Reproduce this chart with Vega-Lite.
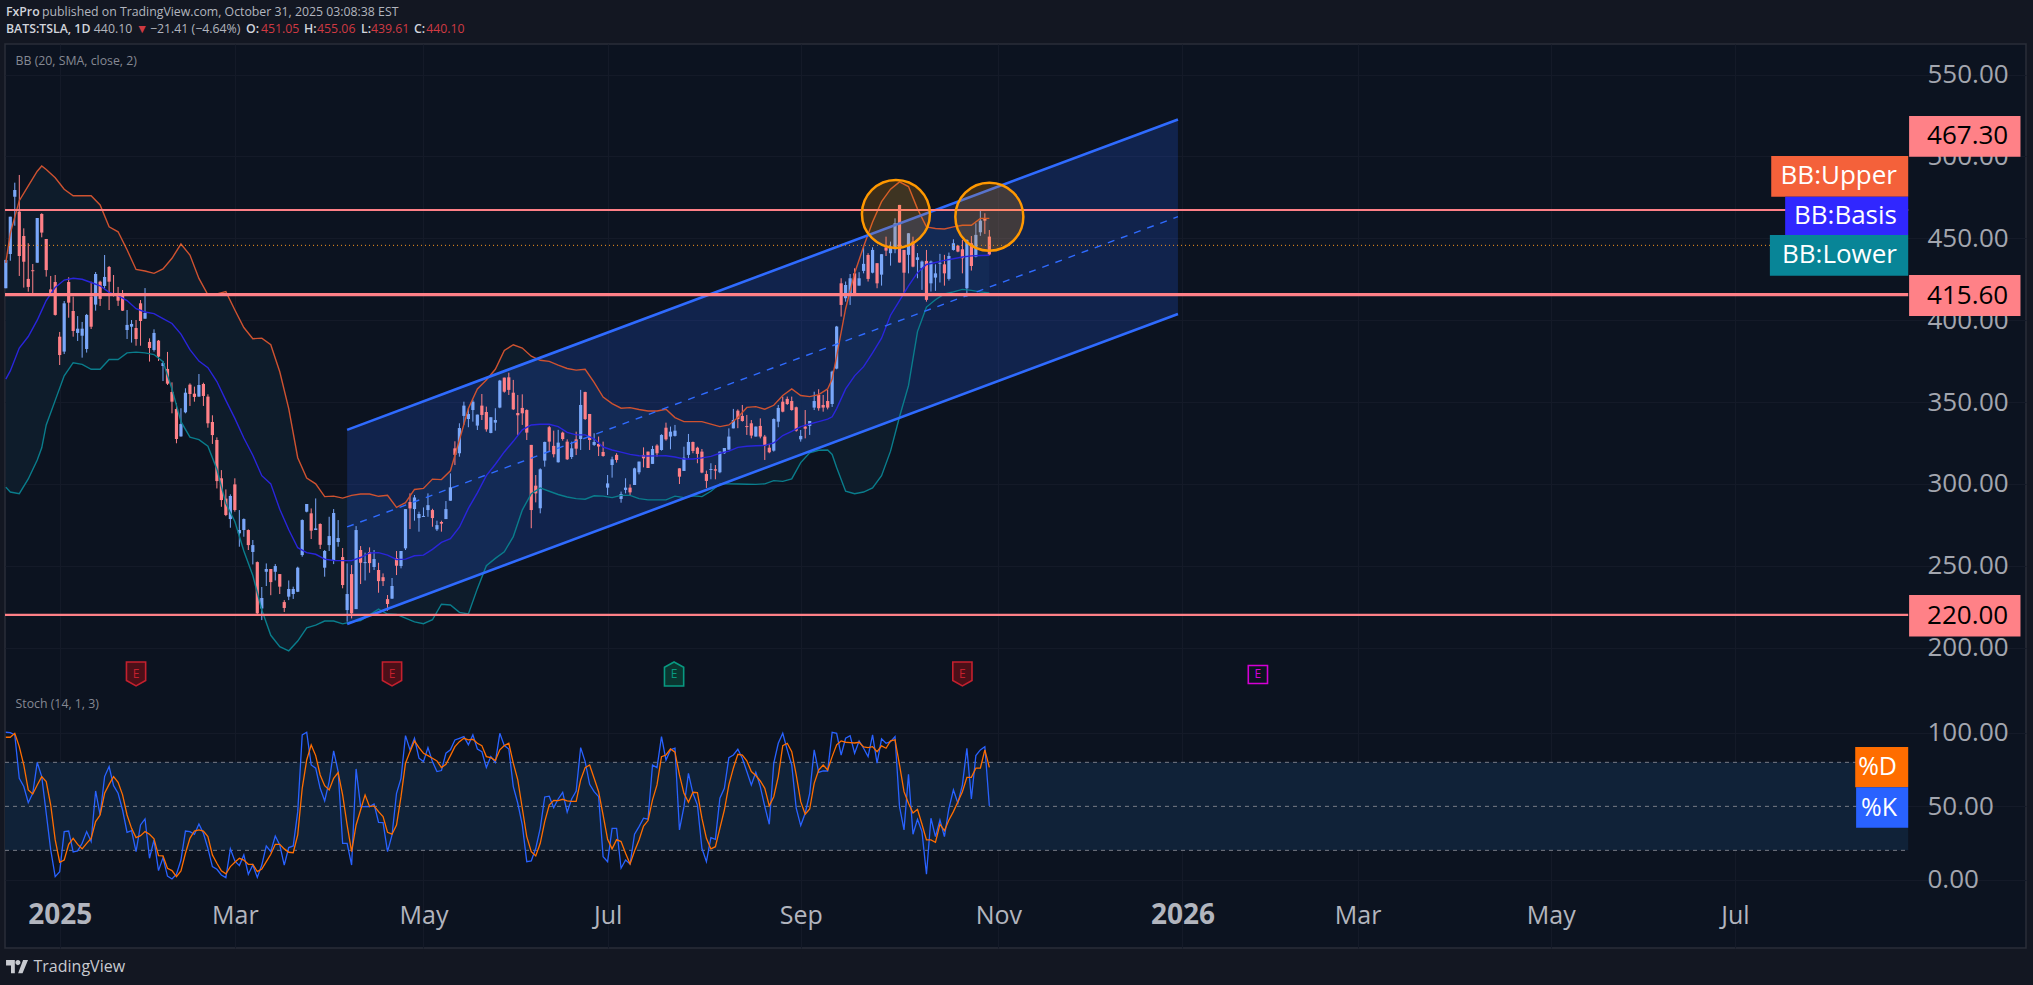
{
"$schema":"https://vega.github.io/schema/vega-lite/v6.json",
"width":2021,"height":904,
"autosize":{"type":"none"},
"padding":{"left":5,"top":44,"right":7,"bottom":37},
"background":"#131722",
"config":{"view":{"fill":"#0c1320","stroke":"#2a2e39","strokeWidth":1.5},"text":{"font":"Open Sans"},"axis":{"labelFont":"Open Sans","labelColor":"#a3a6af","title":null,"domain":false,"ticks":false,"gridColor":"#141a28","gridWidth":1,"labelOverlap":false,"labelBound":false,"labelFlush":false}},
"datasets":{
"bars":[
{"bar":-1,"o":419.5,"h":436.8,"l":419.5,"c":436.8,"k":100.5,"d":97.1},
{"bar":0,"o":440.4,"h":463.2,"l":436.3,"c":463.2,"k":100.3,"d":97.1},
{"bar":1,"o":475.4,"h":484,"l":457.7,"c":479.5,"k":98.7,"d":99.8},
{"bar":2,"o":466.3,"h":488.7,"l":427,"c":439.2,"k":69.1,"d":90.7},
{"bar":3,"o":451.4,"h":456.1,"l":419.9,"c":435.7,"k":63.5,"d":78.2},
{"bar":4,"o":425.2,"h":447,"l":417.4,"c":420.3,"k":52.5,"d":61.2},
{"bar":5,"o":430.5,"h":434.3,"l":416.4,"c":429.9,"k":58.9,"d":58.4},
{"bar":6,"o":435.1,"h":462.4,"l":435.1,"c":462.4,"k":80,"d":64.6},
{"bar":7,"o":464.9,"h":465.3,"l":450.6,"c":453.5,"k":70.3,"d":70.3},
{"bar":8,"o":449.6,"h":449.6,"l":426.6,"c":430.6,"k":45.3,"d":66.9},
{"bar":9,"o":418.8,"h":427,"l":415.4,"c":416.4,"k":20.3,"d":50.9},
{"bar":10,"o":423.3,"h":427.6,"l":402.8,"c":403.2,"k":2.1,"d":27.1},
{"bar":11,"o":389.9,"h":392.8,"l":372.6,"c":378.7,"k":5.5,"d":11.9},
{"bar":12,"o":380.8,"h":411.7,"l":379.3,"c":410.3,"k":32.8,"d":13.4},
{"bar":13,"o":423.3,"h":426.2,"l":401.5,"c":410.7,"k":33.2,"d":24.1},
{"bar":14,"o":405.6,"h":414.4,"l":389.9,"c":393.4,"k":18.9,"d":28.2},
{"bar":15,"o":392.2,"h":402.5,"l":387.3,"c":394.8,"k":19.6,"d":24.1},
{"bar":16,"o":390.5,"h":398.9,"l":377.1,"c":394.8,"k":24.8,"d":21},
{"bar":17,"o":382.4,"h":403.8,"l":380.2,"c":403.2,"k":32.8,"d":24.8},
{"bar":18,"o":414.4,"h":423.5,"l":394.6,"c":396,"k":26,"d":28.2},
{"bar":19,"o":409.5,"h":429.4,"l":405.8,"c":428.2,"k":60.5,"d":39.6},
{"bar":20,"o":423.5,"h":424.1,"l":408.7,"c":413,"k":44.1,"d":44.1},
{"bar":21,"o":420.9,"h":439.8,"l":419.4,"c":426.4,"k":70.3,"d":58.9},
{"bar":22,"o":432.5,"h":433.1,"l":406.2,"c":423.5,"k":77.1,"d":65},
{"bar":23,"o":416.4,"h":427.6,"l":414.4,"c":414.8,"k":64.1,"d":70.3},
{"bar":24,"o":414.8,"h":420.3,"l":408.7,"c":411.9,"k":58.9,"d":66.4},
{"bar":25,"o":415.4,"h":418.4,"l":405.6,"c":405.8,"k":47.5,"d":57.8},
{"bar":26,"o":394,"h":406.2,"l":388.5,"c":397.1,"k":32.3,"d":44.1},
{"bar":27,"o":396,"h":400.1,"l":386.3,"c":397.7,"k":33.4,"d":35},
{"bar":28,"o":395.2,"h":400.1,"l":384.4,"c":388.5,"k":19.1,"d":28.7},
{"bar":29,"o":410.3,"h":412.3,"l":384.4,"c":399.5,"k":37.3,"d":30},
{"bar":30,"o":400.9,"h":419.6,"l":400.9,"c":404.4,"k":41.4,"d":32.8},
{"bar":31,"o":386.7,"h":388.9,"l":374.7,"c":383,"k":14.6,"d":31},
{"bar":32,"o":381.8,"h":394.4,"l":380.8,"c":392.2,"k":27.1,"d":27.8},
{"bar":33,"o":387.5,"h":387.9,"l":375.1,"c":377.7,"k":6.2,"d":16.4},
{"bar":34,"o":372,"h":375.1,"l":362.8,"c":373.8,"k":15,"d":16.2},
{"bar":35,"o":370.2,"h":380.6,"l":360.4,"c":361.2,"k":2.5,"d":7.8},
{"bar":36,"o":356.1,"h":362,"l":343.1,"c":350.2,"k":0.5,"d":6.2},
{"bar":37,"o":345.7,"h":349.2,"l":324.8,"c":327.4,"k":3.7,"d":2.1},
{"bar":38,"o":329,"h":346.2,"l":328.8,"c":336.6,"k":13.4,"d":6},
{"bar":39,"o":343.7,"h":358.4,"l":343.1,"c":355.7,"k":33.2,"d":18},
{"bar":40,"o":360.6,"h":361.4,"l":347.6,"c":354.9,"k":32.8,"d":28.2},
{"bar":41,"o":355.1,"h":359.4,"l":350.2,"c":353.1,"k":31,"d":33.2},
{"bar":42,"o":353.3,"h":367.1,"l":353.3,"c":360.4,"k":38,"d":33.9},
{"bar":43,"o":361,"h":361.8,"l":347.6,"c":353.7,"k":31.6,"d":33.2},
{"bar":44,"o":353.3,"h":354.7,"l":334.3,"c":337,"k":21.4,"d":29.4},
{"bar":45,"o":337.8,"h":341.9,"l":324.4,"c":329.8,"k":8.9,"d":16.9},
{"bar":46,"o":326.8,"h":328.4,"l":297.2,"c":301.7,"k":7.1,"d":11.2},
{"bar":47,"o":303.4,"h":308.4,"l":286,"c":290.1,"k":3.2,"d":6},
{"bar":48,"o":291,"h":296.6,"l":280.3,"c":281,"k":1.4,"d":4},
{"bar":49,"o":278.5,"h":293.6,"l":273.2,"c":292.6,"k":21,"d":8.9},
{"bar":50,"o":299.7,"h":303.4,"l":283,"c":284,"k":12.8,"d":11.9},
{"bar":51,"o":269.8,"h":284,"l":261.6,"c":271.8,"k":9.6,"d":14.6},
{"bar":52,"o":271.8,"h":278.9,"l":267.7,"c":278.5,"k":16.9,"d":13.4},
{"bar":53,"o":271.8,"h":272.2,"l":259.6,"c":262.6,"k":3.7,"d":10.5},
{"bar":54,"o":258.4,"h":265.7,"l":250.8,"c":262.6,"k":10,"d":10.5},
{"bar":55,"o":252.2,"h":252.6,"l":220.5,"c":220.9,"k":1.6,"d":5.5},
{"bar":56,"o":223.9,"h":237,"l":216.8,"c":230.3,"k":10,"d":7.3},
{"bar":57,"o":246.3,"h":251.4,"l":237.6,"c":248,"k":23,"d":12.3},
{"bar":58,"o":248,"h":248,"l":232,"c":240,"k":19.1,"d":17.3},
{"bar":59,"o":246.3,"h":251,"l":241,"c":249.8,"k":29.8,"d":24.1},
{"bar":60,"o":244.9,"h":244.9,"l":232.7,"c":237.2,"k":23.7,"d":24.1},
{"bar":61,"o":227.8,"h":229,"l":221.7,"c":224.2,"k":10,"d":21},
{"bar":62,"o":231.1,"h":241,"l":229,"c":235.8,"k":21.9,"d":18.7},
{"bar":63,"o":232.7,"h":237.2,"l":229.7,"c":235.8,"k":23,"d":18.4},
{"bar":64,"o":234.1,"h":249.4,"l":233.9,"c":248.8,"k":46.4,"d":30.5},
{"bar":65,"o":256.5,"h":278.3,"l":255.5,"c":277.9,"k":98.7,"d":62.3},
{"bar":66,"o":283,"h":287.7,"l":282.6,"c":287.7,"k":100.5,"d":81.6},
{"bar":67,"o":282,"h":285,"l":266.3,"c":271.4,"k":78.2,"d":91.9},
{"bar":68,"o":271.8,"h":291.1,"l":271.8,"c":272.8,"k":76,"d":84.6},
{"bar":69,"o":275.5,"h":275.9,"l":260.2,"c":262.8,"k":62.3,"d":71.4},
{"bar":70,"o":248.8,"h":259.6,"l":243.3,"c":259,"k":53.7,"d":64.1},
{"bar":71,"o":262.6,"h":279.9,"l":259,"c":268.1,"k":66.9,"d":61.2},
{"bar":72,"o":253.5,"h":284.6,"l":251,"c":282.2,"k":87.8,"d":69.1},
{"bar":73,"o":264.5,"h":277.9,"l":261.6,"c":266.9,"k":73.7,"d":73},
{"bar":74,"o":255.3,"h":260.8,"l":236.2,"c":238.2,"k":24.8,"d":57.8},
{"bar":75,"o":222.9,"h":251.4,"l":215.8,"c":232.7,"k":24.8,"d":37.3},
{"bar":76,"o":244.9,"h":250.4,"l":217.8,"c":220.9,"k":10,"d":19.1},
{"bar":77,"o":223.5,"h":274.2,"l":223.5,"c":271.8,"k":75.5,"d":37.3},
{"bar":78,"o":259.6,"h":262,"l":238.8,"c":251.8,"k":49.8,"d":47.5},
{"bar":79,"o":251.6,"h":258,"l":241,"c":252.2,"k":49.8,"d":57.8},
{"bar":80,"o":258.4,"h":261.2,"l":245.7,"c":251.6,"k":49.8,"d":49.8},
{"bar":81,"o":249.2,"h":259.6,"l":247.4,"c":254.1,"k":51.6,"d":50.3},
{"bar":82,"o":247.4,"h":251.8,"l":233.5,"c":240.6,"k":39.1,"d":46.4},
{"bar":83,"o":243,"h":245.3,"l":237.6,"c":240.6,"k":38.9,"d":43},
{"bar":84,"o":229.6,"h":232.1,"l":222.5,"c":226.6,"k":19.1,"d":32.3},
{"bar":85,"o":229.9,"h":242.5,"l":229.7,"c":237.6,"k":30.5,"d":31},
{"bar":86,"o":254.7,"h":259,"l":244.3,"c":250,"k":58.9,"d":37.3},
{"bar":87,"o":249.8,"h":259,"l":248.4,"c":259,"k":69.1,"d":56.6},
{"bar":88,"o":260.6,"h":284.6,"l":259.6,"c":284.6,"k":98.2,"d":79.4},
{"bar":89,"o":288.9,"h":294.2,"l":272.4,"c":285,"k":88.5,"d":87.3},
{"bar":90,"o":284.6,"h":293.2,"l":277.5,"c":291.7,"k":96.4,"d":94.6},
{"bar":91,"o":279.1,"h":283,"l":270.8,"c":281.6,"k":82.8,"d":90},
{"bar":92,"o":279.8,"h":285.6,"l":279.8,"c":280.4,"k":80.5,"d":86.2},
{"bar":93,"o":284,"h":294.2,"l":279.9,"c":287,"k":90,"d":84.6},
{"bar":94,"o":284,"h":284.8,"l":273.8,"c":279.1,"k":80.5,"d":82.8},
{"bar":95,"o":272.2,"h":277.5,"l":271.2,"c":274.8,"k":73.7,"d":81},
{"bar":96,"o":276.7,"h":277.5,"l":270.8,"c":275.7,"k":74.4,"d":76.4},
{"bar":97,"o":278.5,"h":289.5,"l":278.5,"c":284.6,"k":86.2,"d":78.7},
{"bar":98,"o":289.7,"h":306.4,"l":289.7,"c":297.9,"k":88.5,"d":84.6},
{"bar":99,"o":321.7,"h":326,"l":311.5,"c":317.7,"k":95.3,"d":90.7},
{"bar":100,"o":318.7,"h":337,"l":316.6,"c":334.1,"k":96.4,"d":94.1},
{"bar":101,"o":341.5,"h":350.2,"l":336,"c":347.8,"k":97.5,"d":96.4},
{"bar":102,"o":339.6,"h":346.2,"l":334.6,"c":342.7,"k":91.9,"d":95.3},
{"bar":103,"o":345.1,"h":351.3,"l":338,"c":350.2,"k":98.7,"d":95.7},
{"bar":104,"o":335.6,"h":342.3,"l":332.9,"c":342.3,"k":89.1,"d":93},
{"bar":105,"o":347.8,"h":354.9,"l":339,"c":342.1,"k":87.3,"d":91.4},
{"bar":106,"o":343.9,"h":347.2,"l":331.9,"c":333.3,"k":76.4,"d":83.9},
{"bar":107,"o":331.1,"h":340.7,"l":330.9,"c":340.7,"k":83.9,"d":83.2},
{"bar":108,"o":337.4,"h":346.2,"l":332.5,"c":339,"k":80,"d":81.2},
{"bar":109,"o":346.6,"h":363.5,"l":346.2,"c":363.1,"k":99.8,"d":88.5},
{"bar":110,"o":364.9,"h":364.9,"l":355.7,"c":356.3,"k":91.4,"d":91.4},
{"bar":111,"o":365.1,"h":367.9,"l":354.3,"c":357.4,"k":89.1,"d":93},
{"bar":112,"o":355.7,"h":363.5,"l":345.1,"c":345.5,"k":63.5,"d":79.4},
{"bar":113,"o":343.3,"h":354.3,"l":329.9,"c":341.9,"k":52.1,"d":68},
{"bar":114,"o":346.4,"h":354.7,"l":336,"c":343.1,"k":37.3,"d":48.7},
{"bar":115,"o":345.1,"h":345.5,"l":326.8,"c":331.3,"k":12.3,"d":29.4},
{"bar":116,"o":323.8,"h":323.8,"l":272.9,"c":284,"k":12.8,"d":19.1},
{"bar":117,"o":298.9,"h":305.4,"l":288.7,"c":294.2,"k":21.4,"d":16.2},
{"bar":118,"o":285.1,"h":309.5,"l":282,"c":308.9,"k":35,"d":24.8},
{"bar":119,"o":314.2,"h":325.8,"l":310.5,"c":325.6,"k":56.4,"d":39.6},
{"bar":120,"o":334.6,"h":335.4,"l":319.7,"c":325.8,"k":56.9,"d":50.9},
{"bar":121,"o":323.2,"h":332.5,"l":316.2,"c":318.1,"k":49.1,"d":54.1},
{"bar":122,"o":313.2,"h":333,"l":313,"c":325.2,"k":55,"d":53.9},
{"bar":123,"o":331.3,"h":331.9,"l":326.4,"c":327.4,"k":59.6,"d":54.8},
{"bar":124,"o":325.8,"h":327.2,"l":314.6,"c":315,"k":46,"d":53.7},
{"bar":125,"o":316.4,"h":325.8,"l":315.2,"c":321.7,"k":55,"d":53.4},
{"bar":126,"o":327.2,"h":331.9,"l":317.6,"c":321.5,"k":60.5,"d":53.4},
{"bar":127,"o":327.4,"h":357.4,"l":320.7,"c":348.2,"k":90,"d":68},
{"bar":128,"o":356.1,"h":356.3,"l":339,"c":339.6,"k":80.5,"d":76.4},
{"bar":129,"o":342.7,"h":342.7,"l":320.7,"c":326.8,"k":65,"d":78.2},
{"bar":130,"o":323.8,"h":330.9,"l":323.2,"c":325.6,"k":60,"d":69.1},
{"bar":131,"o":324.4,"h":328.9,"l":317,"c":322.8,"k":56.6,"d":60},
{"bar":132,"o":319.5,"h":325.8,"l":316.6,"c":317,"k":15.7,"d":44.1},
{"bar":133,"o":297.7,"h":305.4,"l":293.2,"c":300.3,"k":12.3,"d":27.5},
{"bar":134,"o":311.5,"h":316.6,"l":303.8,"c":315,"k":35,"d":21},
{"bar":135,"o":317.7,"h":318.7,"l":313,"c":314.6,"k":35,"d":27.3},
{"bar":136,"o":290.8,"h":295.3,"l":288.5,"c":293.8,"k":7.8,"d":26},
{"bar":137,"o":296.3,"h":303.4,"l":294.2,"c":297.7,"k":13.4,"d":18},
{"bar":138,"o":297.7,"h":299.7,"l":293.2,"c":294.8,"k":10.7,"d":10.7},
{"bar":139,"o":299.3,"h":309.9,"l":299.3,"c":309.5,"k":31,"d":19.6},
{"bar":140,"o":307.1,"h":313.6,"l":305.8,"c":313.6,"k":36.2,"d":27.1},
{"bar":141,"o":317.7,"h":322.3,"l":310.1,"c":315.6,"k":41.9,"d":36.6},
{"bar":142,"o":319.7,"h":319.7,"l":309.7,"c":309.7,"k":41.2,"d":40.3},
{"bar":143,"o":312.2,"h":323.2,"l":312.2,"c":321.3,"k":78.2,"d":54.4},
{"bar":144,"o":323.4,"h":324.2,"l":316.6,"c":318.7,"k":76.4,"d":64.6},
{"bar":145,"o":320.7,"h":330.3,"l":320.3,"c":329.9,"k":97.5,"d":83.9},
{"bar":146,"o":334.3,"h":337.4,"l":326.4,"c":327.2,"k":81.6,"d":85},
{"bar":147,"o":328.9,"h":335,"l":321.1,"c":331.9,"k":88.5,"d":89.1},
{"bar":148,"o":329.3,"h":336,"l":328.9,"c":332.5,"k":89.6,"d":86.9},
{"bar":149,"o":309.5,"h":309.5,"l":299.9,"c":304.4,"k":33.9,"d":71.4},
{"bar":150,"o":307.9,"h":322.7,"l":307.9,"c":316,"k":49.8,"d":58.9},
{"bar":151,"o":317.7,"h":330.5,"l":315.6,"c":325.6,"k":72.5,"d":52.8},
{"bar":152,"o":325.6,"h":325.8,"l":318.7,"c":320.1,"k":58.9,"d":59.6},
{"bar":153,"o":322.1,"h":322.7,"l":312.6,"c":318.3,"k":50.9,"d":59.4},
{"bar":154,"o":319.7,"h":321.3,"l":306.5,"c":306.9,"k":21.4,"d":41.9},
{"bar":155,"o":306,"h":308.1,"l":297.5,"c":301.8,"k":12.3,"d":28.2},
{"bar":156,"o":308.5,"h":312.6,"l":302.8,"c":309.1,"k":28.7,"d":21},
{"bar":157,"o":308.9,"h":311.5,"l":302.8,"c":308.1,"k":27.5,"d":22.5},
{"bar":158,"o":307.1,"h":319.7,"l":306.5,"c":319.7,"k":55.5,"d":35},
{"bar":159,"o":318.7,"h":321.9,"l":318.3,"c":321.9,"k":62.3,"d":47.5},
{"bar":160,"o":320.9,"h":333.9,"l":320.9,"c":328.9,"k":83.2,"d":64.6},
{"bar":161,"o":333.9,"h":345.8,"l":333.9,"c":339,"k":85,"d":76},
{"bar":162,"o":344.7,"h":345.5,"l":334,"c":339.6,"k":88.9,"d":85.5},
{"bar":163,"o":341.5,"h":348.2,"l":338,"c":338.4,"k":82.8,"d":85},
{"bar":164,"o":335.3,"h":342.1,"l":329.9,"c":334.7,"k":73.7,"d":81},
{"bar":165,"o":337,"h":339,"l":327.8,"c":329.5,"k":64.6,"d":73.7},
{"bar":166,"o":328.9,"h":335,"l":328.9,"c":335,"k":73.2,"d":71},
{"bar":167,"o":335.4,"h":340,"l":327.8,"c":328.9,"k":63.5,"d":67.3},
{"bar":168,"o":328.9,"h":329.9,"l":314.6,"c":323.2,"k":49.8,"d":62.3},
{"bar":169,"o":322.1,"h":324.4,"l":318.7,"c":319.3,"k":37.8,"d":50.3},
{"bar":170,"o":320.3,"h":340,"l":319.7,"c":339.6,"k":79.4,"d":56.6},
{"bar":171,"o":338,"h":348.2,"l":334.6,"c":346.4,"k":93,"d":70.3},
{"bar":172,"o":350.2,"h":353.3,"l":343.7,"c":344.1,"k":99.8,"d":91.4},
{"bar":173,"o":351.9,"h":353.3,"l":348.2,"c":348.8,"k":88.5,"d":93},
{"bar":174,"o":350.6,"h":353.3,"l":344.7,"c":345.1,"k":78.2,"d":87.3},
{"bar":175,"o":346.8,"h":347.2,"l":331.9,"c":332.5,"k":48.7,"d":71.4},
{"bar":176,"o":327.2,"h":332.9,"l":325.8,"c":329.3,"k":36.9,"d":53.2},
{"bar":177,"o":335,"h":345.1,"l":327.8,"c":333.7,"k":45.3,"d":44.6},
{"bar":178,"o":335.4,"h":338.4,"l":329.9,"c":338.4,"k":58.9,"d":48.2},
{"bar":179,"o":346.6,"h":356.3,"l":345.1,"c":350.6,"k":88.5,"d":65.7},
{"bar":180,"o":354.3,"h":357.8,"l":344.7,"c":346.2,"k":73.2,"d":74.8},
{"bar":181,"o":348.2,"h":354.3,"l":344.1,"c":346.6,"k":74.1,"d":78.2},
{"bar":182,"o":350.6,"h":357.4,"l":345.5,"c":346.6,"k":74.1,"d":74.8},
{"bar":183,"o":348.8,"h":369.2,"l":347,"c":368.6,"k":100.5,"d":83.9},
{"bar":184,"o":370.4,"h":396.5,"l":370,"c":396.1,"k":99.8,"d":91.9},
{"bar":185,"o":422.5,"h":425.6,"l":402.2,"c":409.3,"k":85,"d":94.6},
{"bar":186,"o":413.4,"h":423.6,"l":411.3,"c":421.5,"k":96.4,"d":93.7},
{"bar":187,"o":415,"h":428.2,"l":409.3,"c":425.6,"k":98.2,"d":93.5},
{"bar":188,"o":428.6,"h":431.7,"l":416,"c":416,"k":86.2,"d":93.2},
{"bar":189,"o":421.1,"h":429.3,"l":421.1,"c":425.6,"k":94.6,"d":93.7},
{"bar":190,"o":430.1,"h":445,"l":428.6,"c":434.4,"k":89.6,"d":90.5},
{"bar":191,"o":439.8,"h":440.9,"l":423.6,"c":425.2,"k":83.9,"d":90},
{"bar":192,"o":429,"h":444.5,"l":428.6,"c":442.9,"k":98.7,"d":90.7},
{"bar":193,"o":434.8,"h":434.8,"l":419.5,"c":422.5,"k":79.4,"d":87.3},
{"bar":194,"o":427.8,"h":440.3,"l":421.1,"c":440.3,"k":96,"d":91.2},
{"bar":195,"o":444.5,"h":451,"l":439.2,"c":442.5,"k":93,"d":89.6},
{"bar":196,"o":440.9,"h":448,"l":433.3,"c":444.9,"k":94.1,"d":94.6},
{"bar":197,"o":443.3,"h":462.2,"l":440.9,"c":459.2,"k":97.5,"d":95.3},
{"bar":198,"o":470.4,"h":470.4,"l":435.2,"c":435.2,"k":49.8,"d":78.2},
{"bar":199,"o":442.9,"h":442.9,"l":416.8,"c":429,"k":33.9,"d":60},
{"bar":200,"o":439.9,"h":453.1,"l":428.6,"c":453.1,"k":71.9,"d":52.1},
{"bar":201,"o":448,"h":451,"l":432.3,"c":432.7,"k":31,"d":45.5},
{"bar":202,"o":436.8,"h":441,"l":425.6,"c":438.4,"k":41.2,"d":48},
{"bar":203,"o":431.7,"h":436.4,"l":418.5,"c":435.8,"k":32.8,"d":37.8},
{"bar":204,"o":436.2,"h":442.9,"l":411.3,"c":412.4,"k":3.7,"d":27.1},
{"bar":205,"o":422.5,"h":436.4,"l":417.5,"c":435.8,"k":41.9,"d":27.1},
{"bar":206,"o":426,"h":434.1,"l":417.9,"c":428.6,"k":29.4,"d":25.5},
{"bar":207,"o":434.5,"h":440.5,"l":423,"c":435.1,"k":40.7,"d":37.8},
{"bar":208,"o":434.1,"h":439.9,"l":421.1,"c":428.6,"k":29.4,"d":33.4},
{"bar":209,"o":425.2,"h":441.3,"l":424.2,"c":439.2,"k":48.7,"d":40.7},
{"bar":210,"o":442.9,"h":449.4,"l":442.5,"c":447,"k":61.2,"d":46.4},
{"bar":211,"o":445.5,"h":445.9,"l":441.5,"c":441.9,"k":52.1,"d":53.2},
{"bar":212,"o":443.3,"h":449,"l":428.6,"c":437.8,"k":64.6,"d":60},
{"bar":213,"o":419.5,"h":449.4,"l":414.4,"c":449,"k":89.6,"d":69.8},
{"bar":214,"o":447,"h":451.4,"l":430.3,"c":433.1,"k":55,"d":69.8},
{"bar":215,"o":438.8,"h":459.2,"l":438.4,"c":452.1,"k":84.6,"d":76},
{"bar":216,"o":453.7,"h":466.7,"l":451.5,"c":460.8,"k":88.5,"d":76},
{"bar":217,"o":462.2,"h":465.3,"l":452.7,"c":460.8,"k":90.7,"d":88.5},
{"bar":218,"o":451.05,"h":455.06,"l":439.61,"c":440.1,"k":50.3,"d":76.6}
],
"bb":[
{"bar":-1,"upper":435,"basis":364,"lower":298},{"bar":0,"upper":453,"basis":369,"lower":295},{"bar":2,"upper":473,"basis":383,"lower":294},{"bar":4,"upper":482,"basis":390,"lower":303},{"bar":6,"upper":491,"basis":400,"lower":314.6},{"bar":7,"upper":494.2,"basis":406,"lower":322},{"bar":8,"upper":492,"basis":412,"lower":336},{"bar":10,"upper":487,"basis":420,"lower":351},{"bar":12,"upper":480,"basis":424.5,"lower":366},{"bar":14,"upper":476,"basis":425.6,"lower":374},{"bar":16,"upper":476,"basis":425,"lower":373},{"bar":18,"upper":476,"basis":423,"lower":370},{"bar":20,"upper":470.4,"basis":421,"lower":370},{"bar":22,"upper":457,"basis":417,"lower":376},{"bar":24,"upper":454,"basis":415,"lower":376},{"bar":26,"upper":443,"basis":412,"lower":380},{"bar":28,"upper":431,"basis":407,"lower":380.5},{"bar":30,"upper":430,"basis":405,"lower":380},{"bar":32,"upper":428.6,"basis":404,"lower":379},{"bar":34,"upper":431.3,"basis":401,"lower":374.7},{"bar":36,"upper":437.8,"basis":398,"lower":358},{"bar":38,"upper":446.5,"basis":391.5,"lower":338},{"bar":40,"upper":439.8,"basis":382,"lower":328.5},{"bar":42,"upper":425.5,"basis":375,"lower":327},{"bar":44,"upper":415.5,"basis":371,"lower":323},{"bar":46,"upper":416,"basis":362.5,"lower":309},{"bar":48,"upper":417.4,"basis":351,"lower":288},{"bar":50,"upper":406.2,"basis":340,"lower":277},{"bar":52,"upper":395.5,"basis":328,"lower":259},{"bar":54,"upper":388.7,"basis":317.5,"lower":244},{"bar":56,"upper":389,"basis":305,"lower":223},{"bar":58,"upper":385,"basis":300,"lower":207.5},{"bar":60,"upper":368.5,"basis":284.5,"lower":200.5},{"bar":62,"upper":346,"basis":272,"lower":198},{"bar":64,"upper":316,"basis":261,"lower":204},{"bar":66,"upper":303.5,"basis":258,"lower":212},{"bar":68,"upper":300,"basis":257,"lower":213.7},{"bar":70,"upper":292.2,"basis":254,"lower":216.2},{"bar":72,"upper":292.5,"basis":253.2,"lower":216.2},{"bar":74,"upper":291.3,"basis":253.1,"lower":214.5},{"bar":76,"upper":293,"basis":253.1,"lower":215.8},{"bar":78,"upper":293.8,"basis":255,"lower":216.5},{"bar":80,"upper":293.8,"basis":257.8,"lower":220},{"bar":82,"upper":292.4,"basis":258,"lower":223.5},{"bar":84,"upper":293,"basis":256.5,"lower":220.5},{"bar":86,"upper":285.6,"basis":253.8,"lower":220.3},{"bar":88,"upper":288.5,"basis":254,"lower":218},{"bar":90,"upper":296.6,"basis":256.1,"lower":215.7},{"bar":92,"upper":297.2,"basis":256.5,"lower":214.6},{"bar":94,"upper":302.9,"basis":260,"lower":217},{"bar":96,"upper":302.6,"basis":264.2,"lower":226.5},{"bar":98,"upper":308,"basis":266.5,"lower":226},{"bar":100,"upper":326.8,"basis":273.5,"lower":221.5},{"bar":102,"upper":346,"basis":285,"lower":220.5},{"bar":104,"upper":358,"basis":294.5,"lower":236},{"bar":106,"upper":363.5,"basis":305,"lower":250},{"bar":108,"upper":370,"basis":312,"lower":254.5},{"bar":110,"upper":381.5,"basis":319.5,"lower":258.5},{"bar":112,"upper":385,"basis":326,"lower":267.8},{"bar":114,"upper":383,"basis":333,"lower":284},{"bar":116,"upper":378,"basis":336,"lower":294},{"bar":118,"upper":375.5,"basis":336.4,"lower":297.5},{"bar":120,"upper":374.8,"basis":336.4,"lower":295.5},{"bar":122,"upper":372.5,"basis":335,"lower":293.5},{"bar":124,"upper":370.5,"basis":331.5,"lower":292},{"bar":126,"upper":369.5,"basis":329.9,"lower":291},{"bar":128,"upper":370,"basis":329.9,"lower":290.6},{"bar":130,"upper":362,"basis":327.5,"lower":292.7},{"bar":132,"upper":353,"basis":322.5,"lower":292.5},{"bar":134,"upper":349,"basis":320.7,"lower":291.6},{"bar":136,"upper":346.2,"basis":319.4,"lower":293},{"bar":138,"upper":346.6,"basis":318,"lower":293},{"bar":140,"upper":345.4,"basis":317.2,"lower":291},{"bar":142,"upper":344.5,"basis":317,"lower":290.2},{"bar":144,"upper":344.5,"basis":317.1,"lower":290.2},{"bar":146,"upper":345.6,"basis":317.2,"lower":290.2},{"bar":148,"upper":340.5,"basis":316.4,"lower":292.5},{"bar":150,"upper":338,"basis":315.2,"lower":291.6},{"bar":152,"upper":338,"basis":315.2,"lower":292.7},{"bar":154,"upper":338,"basis":315.9,"lower":292.2},{"bar":156,"upper":336.5,"basis":316.8,"lower":295.5},{"bar":158,"upper":335,"basis":318.7,"lower":300},{"bar":160,"upper":336,"basis":320,"lower":300},{"bar":162,"upper":340.5,"basis":322.3,"lower":299.9},{"bar":164,"upper":346.7,"basis":323,"lower":299.8},{"bar":166,"upper":347.2,"basis":323.3,"lower":299.7},{"bar":168,"upper":345.6,"basis":323.5,"lower":300},{"bar":170,"upper":348,"basis":325,"lower":302},{"bar":172,"upper":354,"basis":329.5,"lower":301.5},{"bar":174,"upper":358,"basis":332,"lower":303},{"bar":176,"upper":354,"basis":335,"lower":313},{"bar":178,"upper":353.3,"basis":336.6,"lower":319},{"bar":180,"upper":354.5,"basis":338,"lower":320.5},{"bar":182,"upper":358,"basis":339.5,"lower":320.7},{"bar":183,"upper":364,"basis":341,"lower":318},{"bar":184,"upper":378,"basis":346,"lower":310},{"bar":186,"upper":407,"basis":358,"lower":295.5},{"bar":188,"upper":428.7,"basis":366,"lower":294},{"bar":190,"upper":445,"basis":371.6,"lower":295},{"bar":192,"upper":460,"basis":380,"lower":297.5},{"bar":194,"upper":472.4,"basis":389,"lower":305},{"bar":196,"upper":480,"basis":403,"lower":320},{"bar":198,"upper":484.5,"basis":412,"lower":341},{"bar":200,"upper":481.6,"basis":421,"lower":360},{"bar":202,"upper":468,"basis":429,"lower":393},{"bar":204,"upper":457,"basis":434,"lower":408},{"bar":206,"upper":456,"basis":435.2,"lower":412.5},{"bar":208,"upper":455.7,"basis":436.5,"lower":416},{"bar":210,"upper":457,"basis":437.5,"lower":417.3},{"bar":212,"upper":458,"basis":438.6,"lower":418.8},{"bar":214,"upper":458,"basis":439.3,"lower":418.2},{"bar":216,"upper":462.2,"basis":439.5,"lower":417.3},{"bar":218,"upper":462.2,"basis":439.7,"lower":416.7}
],
"channel":[{"bar":75,"top":333,"mid":273.7,"low":214.4},{"bar":260,"top":522.6,"mid":463.2,"low":403.8}],
"levels":[{"price":467.3,"from":-1.18,"to":422.6},{"price":415.6,"from":-1.18,"to":422.6},{"price":220,"from":-1.18,"to":422.6}],
"last_price":[{"price":445.7,"from":-1.18,"to":422.6}],
"circles":[{"bar":197.2,"price":464.9},{"bar":218,"price":463.2}],
"earnings":[{"bar":28,"price":183.9,"result":"miss"},{"bar":85,"price":183.9,"result":"miss"},{"bar":147.8,"price":183.9,"result":"beat"},{"bar":212,"price":183.9,"result":"miss"},{"bar":277.8,"price":183.9,"result":"future"}],
"level_tags":[{"label":"467.30","from":422.8,"to":447.6,"top":524.7,"bottom":499.9,"mid":512.3,"tx":426.8},{"label":"415.60","from":422.8,"to":447.6,"top":427.6,"bottom":402.5,"mid":415,"tx":426.8},{"label":"220.00","from":422.8,"to":447.6,"top":232.1,"bottom":206.7,"mid":219.4,"tx":426.8}],
"bb_tags":[{"label":"BB:Upper","from":392.1,"to":422.6,"top":500.3,"bottom":475.4,"mid":487.9,"tx":420.1},{"label":"BB:Basis","from":395.2,"to":422.6,"top":475.4,"bottom":452,"mid":463.7,"tx":420.1},{"label":"BB:Lower","from":391.8,"to":422.6,"top":452,"bottom":427.2,"mid":439.6,"tx":420.1}],
"stoch_tags":[{"label":"%D","from":410.8,"to":422.6,"top":90.5,"bottom":63,"mid":76.8,"tx":420.1},{"label":"%K","from":411,"to":422.6,"top":63,"bottom":35.4,"mid":49.2,"tx":420.1}],
"stoch_band":[{"from":-1.18,"to":422.6,"top":80,"bottom":20}],
"stoch_levels":[{"v":80,"from":-1.18,"to":422.6},{"v":50,"from":-1.18,"to":422.6},{"v":20,"from":-1.18,"to":422.6}],
"header_regular":[
{"text":"published on TradingView.com, October 31, 2025 03:08:38 EST","bar":7.06,"price":588,"role":"muted"},
{"text":"440.10","bar":18.6,"price":577.6,"role":"muted"},
{"text":"▼","bar":28,"price":577.6,"role":"down"},
{"text":"−21.41 (−4.64%)","bar":31.1,"price":577.6,"role":"muted"},
{"text":"451.05","bar":55.8,"price":577.6,"role":"down"},
{"text":"455.06","bar":68.3,"price":577.6,"role":"down"},
{"text":"439.61","bar":80.3,"price":577.6,"role":"down"},
{"text":"440.10","bar":92.6,"price":577.6,"role":"down"}],
"header_bold":[
{"text":"FxPro","bar":-0.96,"price":588},
{"text":"BATS:TSLA, 1D","bar":-0.96,"price":577.6},
{"text":"O:","bar":52.5,"price":577.6},
{"text":"H:","bar":65.4,"price":577.6},
{"text":"L:","bar":78.1,"price":577.6},
{"text":"C:","bar":89.9,"price":577.6}],
"pane_title_price":[{"text":"BB (20, SMA, close, 2)","bar":1.18,"price":558.5}],
"pane_title_stoch":[{"text":"Stoch (14, 1, 3)","bar":1.18,"v":119.6}],
"brand":[{"text":"TradingView","bar":5.17,"v":-59.3}],
"brand_logo":[{"bar":1.5,"v":-59.3}]
},
"layer":[
{"layer":[
{"data":{"name":"bb"},"mark":{"type":"area","color":"#0e1c2b"},"encoding":{
 "x":{"field":"bar","type":"quantitative","title":null,"scale":{"domain":[-1.18,448.83],"nice":false,"zero":false},"axis":{"orient":"bottom","offset":-33,"values":[11,50,92,133,176,220,261,300,343,384],"labelExpr":"{'11':'2025','50':'Mar','92':'May','133':'Jul','176':'Sep','220':'Nov','261':'2026','300':'Mar','343':'May','384':'Jul'}[datum.value]","labelFontSize":{"condition":{"test":"datum.value==11||datum.value==261","value":28},"value":25},"labelPadding":0,"labelBaseline":"middle","labelAngle":0,"labelColor":"#b2b5be","grid":true,"labelFontWeight":{"condition":{"test":"datum.value==11||datum.value==261","value":"bold"},"value":"normal"}}},
 "y":{"field":"upper","type":"quantitative","title":null,"scale":{"domain":[16.48,568.7],"nice":false,"zero":false},"axis":{"orient":"right","offset":-118,"values":[200,250,300,350,400,450,500,550],"format":".2f","labelFontSize":26,"labelPadding":19,"labelAlign":"left","grid":true}},
 "y2":{"field":"lower"}}},
{"data":{"name":"channel"},"mark":{"type":"area","color":"#2962ff","opacity":0.2},"encoding":{"x":{"field":"bar","type":"quantitative"},"y":{"field":"top","type":"quantitative"},"y2":{"field":"low"}}},
{"data":{"name":"bars"},"mark":{"type":"rule","strokeWidth":1},"encoding":{"x":{"field":"bar","type":"quantitative"},"y":{"field":"l","type":"quantitative"},"y2":{"field":"h"},"color":{"condition":{"test":"datum.c>=datum.o","value":"#7aa7f9"},"value":"#ff8087"}}},
{"data":{"name":"bars"},"mark":{"type":"rule","strokeWidth":3.2},"encoding":{"x":{"field":"bar","type":"quantitative"},"y":{"field":"o","type":"quantitative"},"y2":{"field":"c"},"color":{"condition":{"test":"datum.c>=datum.o","value":"#7aa7f9"},"value":"#ff8087"}}},
{"data":{"name":"bb"},"mark":{"type":"line","color":"#cf5230","strokeWidth":1.4},"encoding":{"x":{"field":"bar","type":"quantitative"},"y":{"field":"upper","type":"quantitative"}}},
{"data":{"name":"bb"},"mark":{"type":"line","color":"#2a25dc","strokeWidth":1.4},"encoding":{"x":{"field":"bar","type":"quantitative"},"y":{"field":"basis","type":"quantitative"}}},
{"data":{"name":"bb"},"mark":{"type":"line","color":"#0a7d8c","strokeWidth":1.4},"encoding":{"x":{"field":"bar","type":"quantitative"},"y":{"field":"lower","type":"quantitative"}}},
{"data":{"name":"channel"},"mark":{"type":"line","color":"#2f6bff","strokeWidth":2.6},"encoding":{"x":{"field":"bar","type":"quantitative"},"y":{"field":"top","type":"quantitative"}}},
{"data":{"name":"channel"},"mark":{"type":"line","color":"#2f6bff","strokeWidth":2.6},"encoding":{"x":{"field":"bar","type":"quantitative"},"y":{"field":"low","type":"quantitative"}}},
{"data":{"name":"channel"},"mark":{"type":"line","color":"#2f6bff","strokeWidth":1.4,"strokeDash":[7,7]},"encoding":{"x":{"field":"bar","type":"quantitative"},"y":{"field":"mid","type":"quantitative"}}},
{"data":{"name":"levels"},"mark":{"type":"rule","color":"#ff8087"},"encoding":{"x":{"field":"from","type":"quantitative"},"x2":{"field":"to"},"y":{"field":"price","type":"quantitative"},"strokeWidth":{"condition":{"test":"datum.price==415.6","value":3.2},"value":2.2}}},
{"data":{"name":"last_price"},"mark":{"type":"rule","color":"#f7941d","strokeWidth":1,"strokeDash":[1,3]},"encoding":{"x":{"field":"from","type":"quantitative"},"x2":{"field":"to"},"y":{"field":"price","type":"quantitative"}}},
{"data":{"name":"circles"},"mark":{"type":"circle","size":4624,"fill":"#ff9800","fillOpacity":0.2,"stroke":"#ff9800","strokeWidth":2.5,"opacity":1},"encoding":{"x":{"field":"bar","type":"quantitative"},"y":{"field":"price","type":"quantitative"}}},
{"data":{"name":"earnings"},"mark":{"type":"point","filled":true,"opacity":1,"size":576,"strokeWidth":1.6},"encoding":{"x":{"field":"bar","type":"quantitative"},"y":{"field":"price","type":"quantitative"},
 "shape":{"field":"result","legend":null,"scale":{"domain":["miss","beat","future"],"range":["M-0.8,-1 H0.8 V0.55 L0,1 L-0.8,0.55 Z","M0,-1 L0.8,-0.55 V1 H-0.8 V-0.55 Z","M-0.8,-0.7 H0.8 V0.8 H-0.8 Z"]}},
 "fill":{"field":"result","legend":null,"scale":{"domain":["BB:Upper","BB:Basis","BB:Lower","%D","%K","miss","beat","future"],"range":["#f4613a","#3027ff","#088597","#ff6d00","#2962ff","#4c0f18","#0a3630","#0c1320"]}},
 "stroke":{"field":"result","legend":null,"scale":{"domain":["miss","beat","future"],"range":["#c4202e","#089981","#d500d5"]}}}},
{"data":{"name":"earnings"},"mark":{"type":"text","fontSize":12,"align":"center","baseline":"middle"},"encoding":{"x":{"field":"bar","type":"quantitative"},"y":{"field":"price","type":"quantitative"},"text":{"value":"E"},
 "color":{"field":"result","legend":null,"scale":{"domain":["muted","down","miss","beat","future"],"range":["#b2b5be","#cf3a42","#c4202e","#089981","#d500d5"]}}}},
{"data":{"name":"level_tags"},"mark":{"type":"rect","color":"#ff8187"},"encoding":{"x":{"field":"from","type":"quantitative"},"x2":{"field":"to"},"y":{"field":"top","type":"quantitative"},"y2":{"field":"bottom"}}},
{"data":{"name":"level_tags"},"mark":{"type":"text","color":"#000000","fontSize":26,"align":"left","baseline":"middle"},"encoding":{"x":{"field":"tx","type":"quantitative"},"y":{"field":"mid","type":"quantitative"},"text":{"field":"label"}}},
{"data":{"name":"bb_tags"},"mark":{"type":"rect"},"encoding":{"x":{"field":"from","type":"quantitative"},"x2":{"field":"to"},"y":{"field":"top","type":"quantitative"},"y2":{"field":"bottom"},
 "fill":{"field":"label","legend":null,"scale":{"domain":["BB:Upper","BB:Basis","BB:Lower","%D","%K","miss","beat","future"],"range":["#f4613a","#3027ff","#088597","#ff6d00","#2962ff","#4c0f18","#0a3630","#0c1320"]}}}},
{"data":{"name":"bb_tags"},"mark":{"type":"text","color":"#ffffff","fontSize":26,"align":"right","baseline":"middle"},"encoding":{"x":{"field":"tx","type":"quantitative"},"y":{"field":"mid","type":"quantitative"},"text":{"field":"label"}}},
{"data":{"name":"header_regular"},"mark":{"type":"text","fontSize":12.3,"align":"left","baseline":"middle"},"encoding":{"x":{"field":"bar","type":"quantitative"},"y":{"field":"price","type":"quantitative"},"text":{"field":"text"},
 "color":{"field":"role","legend":null,"scale":{"domain":["muted","down","miss","beat","future"],"range":["#b2b5be","#cf3a42","#c4202e","#089981","#d500d5"]}}}},
{"data":{"name":"header_bold"},"mark":{"type":"text","fontSize":12.3,"fontWeight":600,"color":"#d1d4dc","align":"left","baseline":"middle"},"encoding":{"x":{"field":"bar","type":"quantitative"},"y":{"field":"price","type":"quantitative"},"text":{"field":"text"}}},
{"data":{"name":"pane_title_price"},"mark":{"type":"text","fontSize":12.3,"color":"#868993","align":"left","baseline":"middle"},"encoding":{"x":{"field":"bar","type":"quantitative"},"y":{"field":"price","type":"quantitative"},"text":{"field":"text"}}}
]},
{"layer":[
{"data":{"name":"stoch_band"},"mark":{"type":"rect","color":"#102238"},"encoding":{"x":{"field":"from","type":"quantitative"},"x2":{"field":"to"},"y":{"field":"top","type":"quantitative","title":null,"scale":{"domain":[-46.56,569.67],"nice":false,"zero":false},"axis":{"orient":"right","offset":-118,"values":[0,50,100],"format":".2f","labelFontSize":26,"labelPadding":19,"labelAlign":"left","grid":true}},"y2":{"field":"bottom"}}},
{"data":{"name":"stoch_levels"},"mark":{"type":"rule","color":"#787b86","strokeWidth":1,"strokeDash":[4,4]},"encoding":{"x":{"field":"from","type":"quantitative"},"x2":{"field":"to"},"y":{"field":"v","type":"quantitative"}}},
{"mark":{"type":"rule","color":"#d1d4dc","strokeWidth":1.5},"encoding":{"y":{"datum":131.4,"type":"quantitative"}}},
{"data":{"name":"bars"},"mark":{"type":"line","color":"#2962ff","strokeWidth":1.3},"encoding":{"x":{"field":"bar","type":"quantitative"},"y":{"field":"k","type":"quantitative"}}},
{"data":{"name":"bars"},"mark":{"type":"line","color":"#ff6d00","strokeWidth":1.3},"encoding":{"x":{"field":"bar","type":"quantitative"},"y":{"field":"d","type":"quantitative"}}},
{"data":{"name":"stoch_tags"},"mark":{"type":"rect"},"encoding":{"x":{"field":"from","type":"quantitative"},"x2":{"field":"to"},"y":{"field":"top","type":"quantitative"},"y2":{"field":"bottom"},
 "fill":{"field":"label","legend":null,"scale":{"domain":["BB:Upper","BB:Basis","BB:Lower","%D","%K","miss","beat","future"],"range":["#f4613a","#3027ff","#088597","#ff6d00","#2962ff","#4c0f18","#0a3630","#0c1320"]}}}},
{"data":{"name":"stoch_tags"},"mark":{"type":"text","color":"#ffffff","fontSize":25,"align":"right","baseline":"middle"},"encoding":{"x":{"field":"tx","type":"quantitative"},"y":{"field":"mid","type":"quantitative"},"text":{"field":"label"}}},
{"data":{"name":"pane_title_stoch"},"mark":{"type":"text","fontSize":12.3,"color":"#868993","align":"left","baseline":"middle"},"encoding":{"x":{"field":"bar","type":"quantitative"},"y":{"field":"v","type":"quantitative"},"text":{"field":"text"}}},
{"data":{"name":"brand"},"mark":{"type":"text","fontSize":16,"fontWeight":500,"color":"#c8cad0","align":"left","baseline":"middle"},"encoding":{"x":{"field":"bar","type":"quantitative"},"y":{"field":"v","type":"quantitative"},"text":{"field":"text"}}},
{"data":{"name":"brand_logo"},"mark":{"type":"point","filled":true,"opacity":1,"color":"#c8cad0","size":484,"shape":"M-1,-0.6 H-0.2 V0.6 H-0.55 V-0.1 H-1 Z M-0.15,-0.37 a0.23,0.23 0 1,0 0.46,0 a0.23,0.23 0 1,0 -0.46,0 Z M1,-0.6 L0.5,0.6 H0.1 L0.55,-0.6 Z"},"encoding":{"x":{"field":"bar","type":"quantitative"},"y":{"field":"v","type":"quantitative"}}}
]}
],
"resolve":{"scale":{"y":"independent"},"axis":{"y":"independent"}}
}
